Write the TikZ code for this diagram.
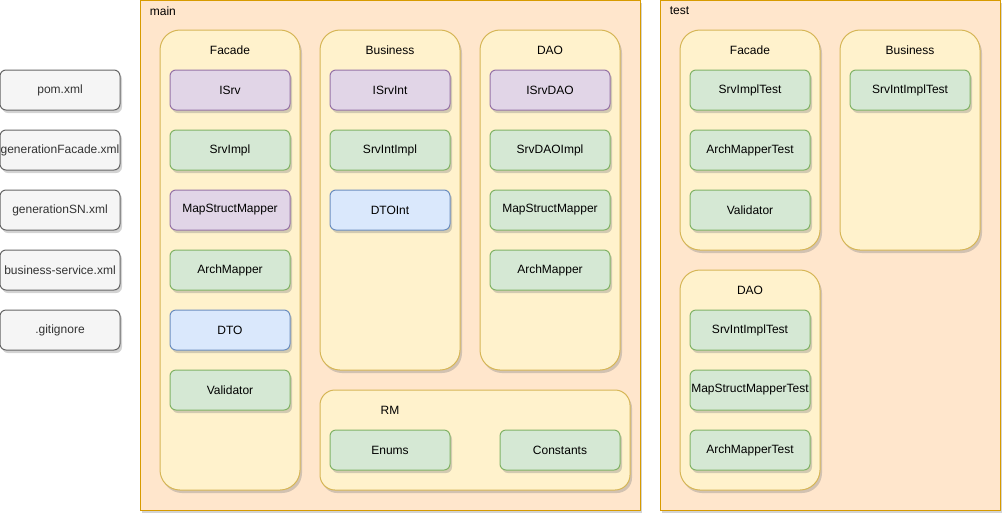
\documentclass[tikz,border=0pt]{standalone}
\usepackage{fontspec}
\setmainfont{Liberation Sans}
\usepackage{tikz}
\usetikzlibrary{positioning,shadows}

\definecolor{mainfill}{HTML}{FFE6CC}
\definecolor{maindraw}{HTML}{D79B00}
\definecolor{pkgfill}{HTML}{FFF2CC}
\definecolor{pkgdraw}{HTML}{D6B656}
\definecolor{greenfill}{HTML}{D5E8D4}
\definecolor{greendraw}{HTML}{82B366}
\definecolor{purplefill}{HTML}{E1D5E7}
\definecolor{purpledraw}{HTML}{9673A6}
\definecolor{bluefill}{HTML}{DAE8FC}
\definecolor{bluedraw}{HTML}{6C8EBF}
\definecolor{grayfill}{HTML}{F5F5F5}
\definecolor{graydraw}{HTML}{666666}
\definecolor{graytext}{HTML}{333333}

\begin{document}
\begin{tikzpicture}[x=1pt,y=-1pt,line width=1pt,node distance=20pt,
    font=\fontsize{12}{14}\selectfont]
    \tikzstyle{shade}=[drop shadow={shadow xshift=2pt,shadow yshift=-3pt,opacity=0.35}]
    \tikzstyle{root}=[draw=maindraw,fill=mainfill,shade,anchor=north west,inner sep=0pt,outer sep=0pt]
    \tikzstyle{pkg}=[draw=pkgdraw,fill=pkgfill,shade,rounded corners=20pt,anchor=north west,inner sep=0pt,outer sep=0pt,minimum width=140pt]
    \tikzstyle{cls}=[rounded corners=6pt,shade,minimum width=120pt,minimum height=40pt,inner sep=0pt,outer sep=0pt]
    \tikzstyle{impl}=[cls,draw=greendraw,fill=greenfill]
    \tikzstyle{iface}=[cls,draw=purpledraw,fill=purplefill]
    \tikzstyle{dto}=[cls,draw=bluedraw,fill=bluefill]
    \tikzstyle{file}=[cls,draw=graydraw,fill=grayfill,text=graytext]

    \useasboundingbox (0,0) rectangle (1004,515);

    % top level folders
    \node[root,minimum width=500pt,minimum height=510pt] (main) at (140,0) {};
    \node[anchor=west] at (146,11) {main};
    \node[root,minimum width=340pt,minimum height=510pt] (test) at (660,0) {};
    \node[anchor=west] at (666,11) {test};

    % files at the root
    \node[file,anchor=north west] (pom) at (0,70) {pom.xml};
    \node[file,below=of pom] (genfac) {generationFacade.xml};
    \node[file,below=of genfac] (gensn) {generationSN.xml};
    \node[file,below=of gensn] (bizsrv) {business-service.xml};
    \node[file,below=of bizsrv] (gitign) {.gitignore};

    % main packages
    \node[pkg,minimum height=460pt] (mfac) at (160,30) {};
    \node at ([yshift=-20pt]mfac.north) {Facade};
    \node[pkg,minimum height=340pt] (mbiz) at (320,30) {};
    \node at ([yshift=-20pt]mbiz.north) {Business};
    \node[pkg,minimum height=340pt] (mdao) at (480,30) {};
    \node at ([yshift=-20pt]mdao.north) {DAO};
    \node[pkg,minimum width=310pt,minimum height=100pt,rounded corners=15pt] (mrm) at (320,390) {};
    \node at (390,410) {RM};

    \node[iface,anchor=north west] (isrv) at (170,70) {ISrv};
    \node[impl,below=of isrv] (srvimpl) {SrvImpl};
    \node[iface,below=of srvimpl] (msmfac) {MapStructMapper};
    \node[impl,below=of msmfac] (amfac) {ArchMapper};
    \node[dto,below=of amfac] (dto) {DTO};
    \node[impl,below=of dto] (valid) {Validator};

    \node[iface,anchor=north west] (isrvint) at (330,70) {ISrvInt};
    \node[impl,below=of isrvint] (srvintimpl) {SrvIntImpl};
    \node[dto,below=of srvintimpl] (dtoint) {DTOInt};

    \node[iface,anchor=north west] (isrvdao) at (490,70) {ISrvDAO};
    \node[impl,below=of isrvdao] (srvdaoimpl) {SrvDAOImpl};
    \node[impl,below=of srvdaoimpl] (msmdao) {MapStructMapper};
    \node[impl,below=of msmdao] (amdao) {ArchMapper};

    \node[impl,anchor=north west] (enums) at (330,430) {Enums};
    \node[impl,anchor=north west] (consts) at (500,430) {Constants};

    % test packages
    \node[pkg,minimum height=220pt] (tfac) at (680,30) {};
    \node at ([yshift=-20pt]tfac.north) {Facade};
    \node[pkg,minimum height=220pt] (tbiz) at (840,30) {};
    \node at ([yshift=-20pt]tbiz.north) {Business};
    \node[pkg,minimum height=220pt] (tdao) at (680,270) {};
    \node at ([yshift=-20pt]tdao.north) {DAO};

    \node[impl,anchor=north west] (srvimpltest) at (690,70) {SrvImplTest};
    \node[impl,below=of srvimpltest] (amtest) {ArchMapperTest};
    \node[impl,below=of amtest] (validtest) {Validator};

    \node[impl,anchor=north west] (srvintimpltest) at (850,70) {SrvIntImplTest};

    \node[impl,anchor=north west] (srvintimpltest2) at (690,310) {SrvIntImplTest};
    \node[impl,below=of srvintimpltest2] (msmtest) {MapStructMapperTest};
    \node[impl,below=of msmtest] (amtest2) {ArchMapperTest};
\end{tikzpicture}
\end{document}
